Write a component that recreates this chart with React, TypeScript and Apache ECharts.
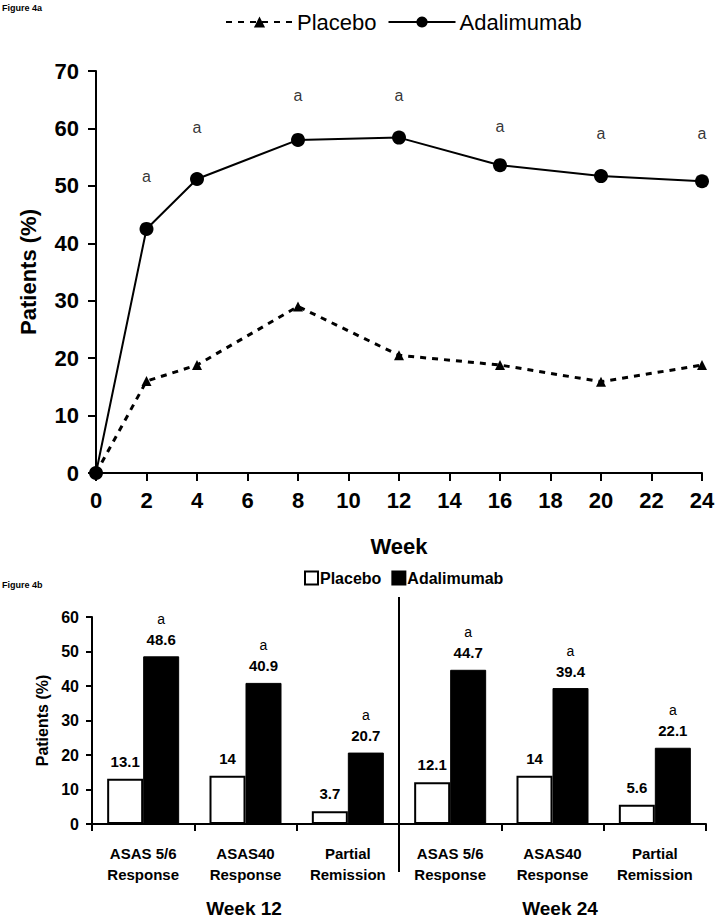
import React, { useEffect, useRef } from "react";
import * as echarts from "echarts";

const weeks = [0, 2, 4, 8, 12, 16, 20, 24];
const placeboLine = [0, 16, 18.8, 29, 20.5, 18.8, 15.9, 18.8];
const adalimumabLine = [0, 42.5, 51.2, 58, 58.4, 53.6, 51.7, 50.8];
const sigWeeks = [2, 4, 8, 12, 16, 20, 24];
const sigHeights = [51.7, 60.2, 65.7, 65.7, 60.3, 59.2, 59.2];

const barCategories = [
  "ASAS 5/6\nResponse",
  "ASAS40\nResponse",
  "Partial\nRemission",
  "ASAS 5/6\nResponse",
  "ASAS40\nResponse",
  "Partial\nRemission",
];
const placeboBars = [13.1, 14, 3.7, 12.1, 14, 5.6];
const adalimumabBars = [48.6, 40.9, 20.7, 44.7, 39.4, 22.1];
const groupLabels = ["Week 12", "Week 24"];

const FONT = "'Liberation Sans', Arial, sans-serif";

export default function App() {
  const topRef = useRef<HTMLDivElement>(null);
  const botRef = useRef<HTMLDivElement>(null);

  useEffect(() => {
    document.body.style.margin = "0";
    const top = echarts.init(topRef.current!, undefined, { renderer: "svg" });
    const bot = echarts.init(botRef.current!, undefined, { renderer: "svg" });

    top.setOption({
      animation: false,
      textStyle: { fontFamily: FONT, color: "#000" },
      legend: {
        left: 220,
        top: 6,
        itemWidth: 67,
        itemHeight: 14,
        itemGap: 11,
        data: ["Placebo", "Adalimumab"],
        textStyle: { fontSize: 22, color: "#000", fontFamily: FONT, padding: [0, 0, 0, -1] },
      },
      graphic: [
        {
          type: "text",
          left: 2,
          top: 3,
          style: { text: "Figure 4a", fontSize: 9, fontWeight: "bold", fill: "#000", fontFamily: FONT },
        },
      ],
      grid: { left: 96, right: 13, top: 71, bottom: 103, outerBoundsMode: "none", containLabel: false },
      xAxis: {
        type: "value",
        min: 0,
        max: 24,
        interval: 2,
        name: "Week",
        nameLocation: "middle",
        nameGap: 62,
        nameTextStyle: { fontSize: 22, fontWeight: "bold", color: "#000" },
        axisLine: { show: true, lineStyle: { color: "#000", width: 2 } },
        axisTick: { show: true, length: 8, lineStyle: { color: "#000", width: 2 } },
        axisLabel: { fontSize: 22, fontWeight: "bold", color: "#000", margin: 16 },
        splitLine: { show: false },
      },
      yAxis: {
        type: "value",
        min: 0,
        max: 70,
        interval: 10,
        name: "Patients (%)",
        nameLocation: "middle",
        nameGap: 57,
        nameTextStyle: { fontSize: 22, fontWeight: "bold", color: "#000" },
        axisLine: { show: true, lineStyle: { color: "#000", width: 2 } },
        axisTick: { show: true, length: 8, lineStyle: { color: "#000", width: 2 } },
        axisLabel: { fontSize: 22, fontWeight: "bold", color: "#000", margin: 17 },
        splitLine: { show: false },
      },
      series: [
        {
          name: "Placebo",
          type: "line",
          data: weeks.map((w, i) => [w, placeboLine[i]]),
          symbol: "triangle",
          symbolSize: 10,
          itemStyle: { color: "#000" },
          lineStyle: { color: "#000", width: 3, type: [6, 6] },
          z: 2,
        },
        {
          name: "Adalimumab",
          type: "line",
          data: weeks.map((w, i) => [w, adalimumabLine[i]]),
          symbol: "circle",
          symbolSize: 14,
          itemStyle: { color: "#000" },
          lineStyle: { color: "#000", width: 2 },
          z: 3,
        },
        {
          name: "sig",
          type: "scatter",
          data: sigWeeks.map((w, i) => [w, sigHeights[i]]),
          symbolSize: 0,
          label: {
            show: true,
            position: "inside",
            formatter: "a",
            fontSize: 16,
            color: "#000",
            fontFamily: FONT,
          },
        },
      ],
    });

    bot.setOption({
      animation: false,
      textStyle: { fontFamily: FONT, color: "#000" },
      legend: {
        left: 299,
        top: 10,
        itemWidth: 13,
        itemHeight: 13,
        itemGap: 10,
        data: [
          { name: "Placebo", icon: "rect" },
          { name: "Adalimumab", icon: "rect" },
        ],
        textStyle: { fontSize: 16, fontWeight: "bold", color: "#000", fontFamily: FONT, padding: [0, 0, 0, -3] },
      },
      graphic: [
        {
          type: "text",
          left: 2,
          top: 25,
          style: { text: "Figure 4b", fontSize: 9, fontWeight: "bold", fill: "#000", fontFamily: FONT },
        },
        {
          type: "line",
          shape: { x1: 399, y1: 42, x2: 399, y2: 317 },
          style: { stroke: "#000", lineWidth: 2 },
        },
        {
          type: "text",
          x: 244,
          y: 353,
          style: {
            text: groupLabels[0],
            fontSize: 19,
            fontWeight: "bold",
            fill: "#000",
            fontFamily: FONT,
            textAlign: "center",
            textVerticalAlign: "middle",
          },
        },
        {
          type: "text",
          x: 560,
          y: 353,
          style: {
            text: groupLabels[1],
            fontSize: 19,
            fontWeight: "bold",
            fill: "#000",
            fontFamily: FONT,
            textAlign: "center",
            textVerticalAlign: "middle",
          },
        },
      ],
      grid: { left: 92, right: 9, top: 62, bottom: 95, outerBoundsMode: "none", containLabel: false },
      xAxis: {
        type: "category",
        data: barCategories,
        axisLine: { show: true, lineStyle: { color: "#000", width: 2 } },
        axisTick: { show: true, length: 7, lineStyle: { color: "#000", width: 2 } },
        axisLabel: {
          fontSize: 15,
          fontWeight: "bold",
          color: "#000",
          margin: 19,
          lineHeight: 21,
          interval: 0,
        },
      },
      yAxis: {
        type: "value",
        min: 0,
        max: 60,
        interval: 10,
        name: "Patients (%)",
        nameLocation: "middle",
        nameGap: 42,
        nameTextStyle: { fontSize: 16, fontWeight: "bold", color: "#000" },
        axisLine: { show: true, lineStyle: { color: "#000", width: 2 } },
        axisTick: { show: true, length: 6, lineStyle: { color: "#000", width: 2 } },
        axisLabel: { fontSize: 16, fontWeight: "bold", color: "#000", margin: 13 },
        splitLine: { show: false },
      },
      series: [
        {
          name: "Placebo",
          type: "bar",
          data: placeboBars,
          barWidth: 36,
          barGap: "0%",
          itemStyle: { color: "#fff", borderColor: "#000", borderWidth: 2 },
          label: {
            show: true,
            position: "top",
            distance: 10,
            fontSize: 15,
            fontWeight: "bold",
            color: "#000",
          },
        },
        {
          name: "Adalimumab",
          type: "bar",
          data: adalimumabBars,
          barWidth: 36,
          itemStyle: { color: "#000", borderColor: "#000", borderWidth: 1 },
          label: {
            show: true,
            position: "top",
            distance: 8,
            formatter: (p: any) => `{a|a}\n{v|${p.value}}`,
            rich: {
              a: { fontSize: 14, color: "#000", lineHeight: 23, fontFamily: FONT },
              v: { fontSize: 15, fontWeight: "bold", color: "#000", lineHeight: 18, fontFamily: FONT },
            },
          },
        },
      ],
    });

    return () => {
      top.dispose();
      bot.dispose();
    };
  }, []);

  return (
    <div style={{ position: "absolute", left: 0, top: 0, width: 715, height: 919, background: "#fff" }}>
      <div ref={topRef} style={{ position: "absolute", left: 0, top: 0, width: 715, height: 576 }} />
      <div ref={botRef} style={{ position: "absolute", left: 0, top: 555, width: 715, height: 364 }} />
    </div>
  );
}
